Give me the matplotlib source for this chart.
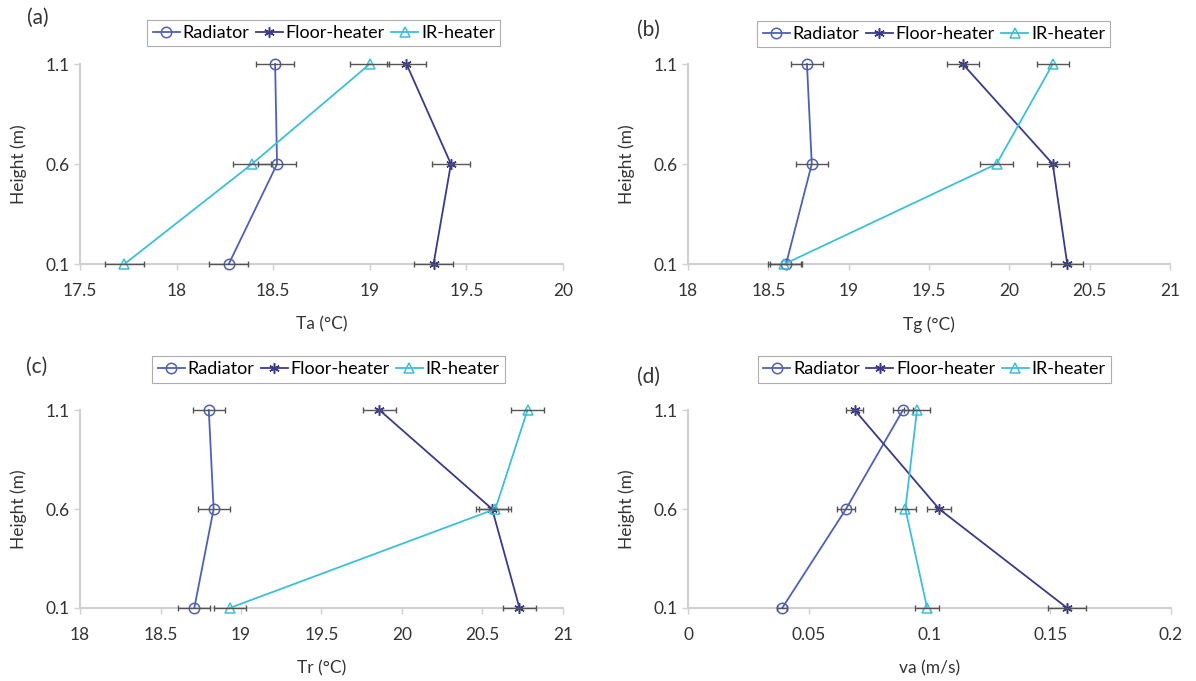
import matplotlib.pyplot as plt

plt.rcParams['font.family'] = ['Lato', 'DejaVu Sans']

heights = [0.1, 0.6, 1.1]
series = ["Radiator", "Floor-heater", "IR-heater"]

# (a) air temperature
ta_rad = [18.27, 18.52, 18.51]
ta_floor = [19.33, 19.42, 19.19]
ta_ir = [17.73, 18.39, 19.0]
ta_err_rad = [0.1, 0.1, 0.1]
ta_err_floor = [0.1, 0.1, 0.1]
ta_err_ir = [0.1, 0.1, 0.1]

# (b) globe temperature
tg_rad = [18.61, 18.77, 18.74]
tg_floor = [20.36, 20.27, 19.71]
tg_ir = [18.6, 19.92, 20.27]
tg_err_rad = [0.1, 0.1, 0.1]
tg_err_floor = [0.1, 0.1, 0.1]
tg_err_ir = [0.1, 0.1, 0.1]

# (c) mean radiant temperature
tr_rad = [18.71, 18.83, 18.8]
tr_floor = [20.73, 20.56, 19.86]
tr_ir = [18.93, 20.58, 20.78]
tr_err_rad = [0.1, 0.1, 0.1]
tr_err_floor = [0.1, 0.1, 0.1]
tr_err_ir = [0.1, 0.1, 0.1]

# (d) air velocity
va_rad = [0.039, 0.0654, 0.089]
va_floor = [0.157, 0.104, 0.069]
va_ir = [0.099, 0.090, 0.0948]
va_err_rad = [0.002, 0.0037, 0.004]
va_err_floor = [0.008, 0.005, 0.0035]
va_err_ir = [0.005, 0.0045, 0.0055]

panels = [
    ("(a)", "Ta (°C)", (17.5, 20), [17.5, 18, 18.5, 19, 19.5, 20],
     ["17.5", "18", "18.5", "19", "19.5", "20"],
     [ta_rad, ta_floor, ta_ir], [ta_err_rad, ta_err_floor, ta_err_ir]),
    ("(b)", "Tg (°C)", (18, 21), [18, 18.5, 19, 19.5, 20, 20.5, 21],
     ["18", "18.5", "19", "19.5", "20", "20.5", "21"],
     [tg_rad, tg_floor, tg_ir], [tg_err_rad, tg_err_floor, tg_err_ir]),
    ("(c)", "Tr (°C)", (18, 21), [18, 18.5, 19, 19.5, 20, 20.5, 21],
     ["18", "18.5", "19", "19.5", "20", "20.5", "21"],
     [tr_rad, tr_floor, tr_ir], [tr_err_rad, tr_err_floor, tr_err_ir]),
    ("(d)", "va (m/s)", (0, 0.2), [0, 0.05, 0.1, 0.15, 0.2],
     ["0", "0.05", "0.1", "0.15", "0.2"],
     [va_rad, va_floor, va_ir], [va_err_rad, va_err_floor, va_err_ir]),
]

colors = ["#5060B4", "#3B3A8A", "#3CC0D6"]
markers = ["o", (6, 2, 0), "^"]
axis_grey = "#D0D0D0"
txt = "#333333"

fig = plt.figure(figsize=(11.96, 6.81), dpi=100)
boxes = [
    [0.0669, 0.6123, 0.4038, 0.2937],
    [0.5753, 0.6123, 0.4030, 0.2937],
    [0.0669, 0.1072, 0.4038, 0.2907],
    [0.5753, 0.1072, 0.4038, 0.2907],
]
leg_y = [1.155, 1.15, 1.205, 1.205]
tag_pos = [(-0.11, 1.23), (-0.105, 1.17), (-0.112, 1.22), (-0.105, 1.17)]
leg_x = [0.505, 0.51, 0.515, 0.51]

for k, (box, (tag, xlab, xlim, xt, xtl, vals, errs)) in enumerate(zip(boxes, panels)):
    ax = fig.add_axes(box)
    handles = []
    for i in range(3):
        eb = ax.errorbar(vals[i], heights, xerr=errs[i], fmt="none",
                         ecolor="#555555", elinewidth=1.0, capsize=2.5,
                         capthick=1.0, zorder=4)
        for art in eb.get_children():
            art.set_clip_on(False)
        h, = ax.plot(vals[i], heights, color=colors[i], lw=1.3,
                     marker=markers[i], markersize=7.5,
                     markerfacecolor="none", markeredgecolor=colors[i],
                     markeredgewidth=1.1, label=series[i], zorder=3,
                     clip_on=False)
        handles.append(h)
    ax.set_xlim(*xlim)
    ax.set_ylim(0.1, 1.1)
    ax.set_xticks(xt)
    ax.set_xticklabels(xtl)
    ax.set_yticks(heights)
    ax.set_yticklabels(["0.1", "0.6", "1.1"])
    for s in ["top", "right"]:
        ax.spines[s].set_visible(False)
    for s in ["left", "bottom"]:
        ax.spines[s].set_color(axis_grey)
        ax.spines[s].set_linewidth(1.5)
        ax.spines[s].set_zorder(1)
    ax.tick_params(axis="both", colors=axis_grey, labelcolor=txt,
                   labelsize=12.5, length=4, width=1)
    ax.tick_params(axis="x", pad=10)
    ax.set_xlabel(xlab, fontsize=12.5, color=txt, labelpad=12)
    ax.set_ylabel("Height (m)", fontsize=12.5, color=txt)
    ax.yaxis.set_label_coords(-0.11, 0.5)
    ax.text(tag_pos[k][0], tag_pos[k][1], tag, transform=ax.transAxes,
            fontsize=15, color=txt, va="center", ha="left")
    leg = ax.legend(handles=handles, loc="center", ncol=3,
                    bbox_to_anchor=(leg_x[k], leg_y[k]), fontsize=13,
                    frameon=True, fancybox=False, handlelength=1.5,
                    handletextpad=0.15, columnspacing=0.35,
                    borderpad=0.3, borderaxespad=0)
    leg.get_frame().set_edgecolor("#999999")
    leg.get_frame().set_linewidth(0.8)

fig.savefig("out.png", dpi=100, facecolor="white")
